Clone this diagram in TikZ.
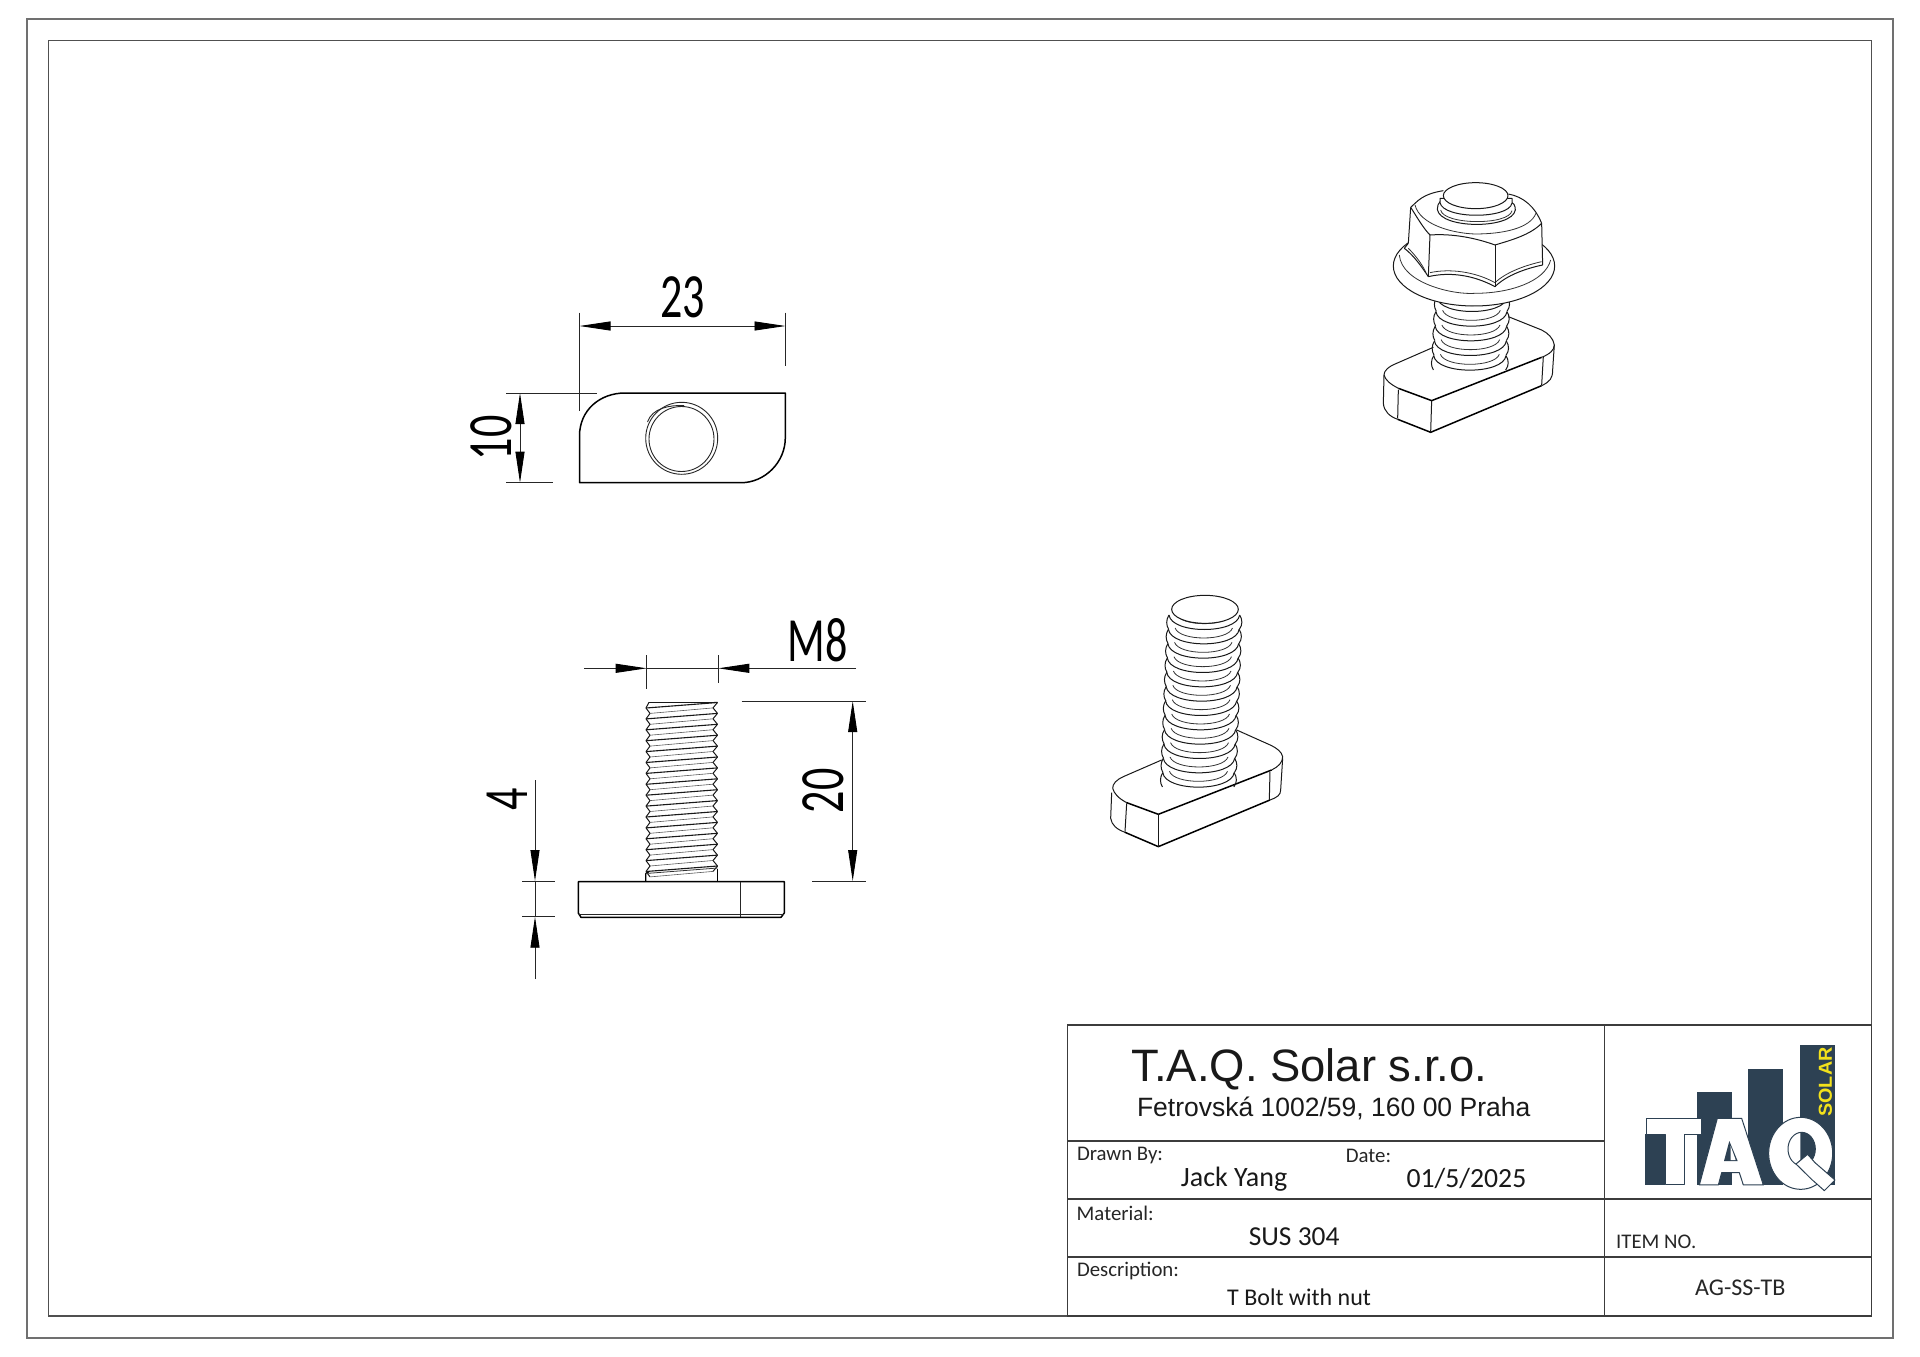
\documentclass[tikz,border=0pt]{standalone}
\usepackage{fontspec}
\setmainfont{Carlito}
\newfontfamily\arialfont{Liberation Sans}
\usetikzlibrary{arrows.meta}
\definecolor{framegray}{HTML}{707070}
\definecolor{innergray}{HTML}{505050}
\definecolor{tableline}{HTML}{3C3C3C}
\definecolor{logodark}{HTML}{2D4153}
\definecolor{logoyellow}{HTML}{F2E11B}
\tikzset{
  framebox/.style={draw=framegray,line width=2pt},
  innerbox/.style={draw=innergray,line width=1.5pt},
  tablerule/.style={draw=tableline,line width=1.4pt},
  part/.style={draw=black,line width=1.5pt,line join=round},
  partthin/.style={draw=black!85,line width=0.9pt},
  iso/.style={draw=black!90,line width=1pt,line join=round},
  isoheavy/.style={draw=black,line width=1.5pt,line join=round},
  isothin/.style={draw=black!80,line width=0.8pt},
  rootline/.style={draw=black!65,line width=0.6pt},
  dimline/.style={draw=black!85,line width=0.9pt},
  dimarrow/.style={dimline,arrows={Triangle[length=31pt,width=9pt,black]-Triangle[length=31pt,width=9pt,black]}},
  dimto/.style={dimline,arrows={-Triangle[length=31pt,width=9pt,black]}},
  dimtext/.style={inner sep=0pt,xscale=0.7,font=\fontsize{63}{63}\selectfont},
  lbl/.style={anchor=base west,inner sep=0pt,text=black!85,font=\fontsize{20.8}{22}\selectfont},
  val/.style={anchor=base west,inner sep=0pt,text=black!90,font=\fontsize{28}{30}\selectfont},
  logoshape/.style={fill=white,draw=logodark,line width=1pt,line join=round},
}
\newcommand{\isoring}[3]{%
  \draw[iso] (#1,#3) .. controls (#1+8,#3+58) and (#2-8,#3+58) .. (#2,#3);
  \draw[isothin] (#1+20,#3-4) .. controls (#1+34,#3+36) and (#2-34,#3+36) .. (#2-20,#3-4);
  \draw[iso] (#1,#3) .. controls (#1-9,#3+14) and (#1-9,#3+30) .. (#1-1,#3+43);
  \draw[iso] (#2,#3) .. controls (#2+9,#3+14) and (#2+9,#3+30) .. (#2-1,#3+43);
}
\begin{document}
\begin{tikzpicture}[x=1pt,y=-1pt]
\useasboundingbox (0,0) rectangle (1920,1357);
\fill[white] (0,0) rectangle (1920,1357);
% frames
\draw[framebox] (27,19) rectangle (1893,1338);
\draw[innerbox] (48.7,40.3) rectangle (1871.5,1316);
% title block
\draw[tablerule] (1067.5,1025) rectangle (1871.5,1316);
\draw[tablerule] (1604.5,1025) -- (1604.5,1316);
\draw[tablerule] (1067.5,1141) -- (1604.5,1141);
\draw[tablerule] (1067.5,1199) -- (1871.5,1199);
\draw[tablerule] (1067.5,1257) -- (1871.5,1257);
\node[anchor=base west,inner sep=0pt,text=black!90,font=\arialfont\fontsize{45.4}{47}\selectfont] (company) at (1131.4,1081.7) {T.A.Q. Solar s.r.o.};
\node[anchor=base west,inner sep=0pt,text=black!90,font=\arialfont\fontsize{26.5}{28}\selectfont] (address) at (1136.8,1116.7) {Fetrovská 1002/59, 160 00 Praha};
\node[lbl] (drawnlbl) at (1076.8,1160.7) {Drawn By:};
\node[val] (drawnval) at (1180.7,1186.7) {Jack Yang};
\node[lbl] (datelbl) at (1345.7,1162) {Date:};
\node[val,font=\fontsize{27.7}{30}\selectfont] (dateval) at (1406.4,1187) {01/5/2025};
\node[lbl] (matlbl) at (1076.5,1220.7) {Material:};
\node[val,font=\fontsize{27.4}{29}\selectfont] (matval) at (1248.6,1245) {SUS 304};
\node[lbl] (desclbl) at (1076.8,1276.7) {Description:};
\node[val,font=\fontsize{24}{26}\selectfont] (descval) at (1227,1305.7) {T Bolt with nut};
\node[lbl] (itemlbl) at (1616,1248) {ITEM NO.};
\node[lbl,font=\fontsize{24}{26}\selectfont] (itemval) at (1695,1295) {AG-SS-TB};
% logo
\begin{scope}[shift={(1640,1040)},x=0.3333pt,y=-0.3333pt]
  \fill[logodark] (480,15) rectangle (585,435);
  \fill[logodark] (325,88) rectangle (430,435);
  \fill[logodark] (170,157) rectangle (275,435);
  \fill[logodark] (15,283) rectangle (75,435);
  \path[logoshape] (18,235) -- (185,235) -- (185,283) -- (133,283) -- (133,433) -- (75,433) -- (75,283) -- (18,283) -- cycle;
  \path[logoshape] (232,235) -- (305,235) -- (370,435) -- (310,435) -- (298,398) -- (245,398) -- (235,435) -- (178,435) -- cycle;
  \fill[logodark] (268,303) -- (252,363) -- (293,363) -- cycle;
  \fill[white] (272,318) -- (272,360) -- (287,360) -- cycle;
  \path[logoshape] (482,340) ellipse [x radius=96,y radius=108];
  \path[logoshape] (485,327) ellipse [x radius=41,y radius=50];
  \begin{scope}
    \clip (481,270) rectangle (540,385);
    \fill[logodark] (485,327) ellipse [x radius=41,y radius=50];
  \end{scope}
  \path[logoshape] (468,372) -- (503,343) -- (525,368) -- (585,420) -- (553,452) -- (515,418) -- cycle;
  \fill[white] (500,352) -- (520,372) -- (540,425) -- (520,420) -- (480,378) -- cycle;
\end{scope}
\node[rotate=90,xscale=1.05,inner sep=0pt,text=logoyellow,font=\arialfont\bfseries\fontsize{18.8}{19}\selectfont] (logosolar) at (1825.5,1082) {SOLAR};
% top view
\draw[part] (579.5,482.7) -- (579.5,436) .. controls (579.5,410) and (600,393) .. (625,393) -- (785.3,393) -- (785.3,438) .. controls (785.3,462) and (765,482.7) .. (741,482.7) -- cycle;
\draw[partthin] (681.7,438.3) circle [radius=36];
\draw[partthin] (681.5,439) circle [radius=32.5];
\draw[partthin] (647.5,422) .. controls (652,408) and (670,405) .. (684,405.5);
\coordinate (a1) at (579.5,326); \coordinate (a2) at (785.5,326);
\draw[dimarrow] (a1) -- (a2);
\draw[dimline] (579.5,312.7) -- (579.5,411);
\draw[dimline] (785.5,312.7) -- (785.5,366);
\node[dimtext] (d23) at (682.7,297.7) {23};
\coordinate (b1) at (520,393); \coordinate (b2) at (520,482.7);
\draw[dimarrow] (b1) -- (b2);
\draw[dimline] (506,393) -- (597,393);
\draw[dimline] (506,482.7) -- (552.7,482.7);
\node[rotate=90,dimtext] (d10) at (491,438) {10};
% side view
\draw[part] (578.3,881.7) -- (784.3,881.7) -- (784.3,913) -- (781,917.3) -- (581,917.3) -- (578.3,913) -- cycle;
\draw[partthin] (579,914) -- (784,914);
\draw[partthin] (740,881.7) -- (740,917.3);
% thread
\foreach \i in {0,...,15}{
  \pgfmathsetmacro{\yl}{708+10.9*\i}
  \pgfmathsetmacro{\yr}{702.5+10.9*\i}
  \draw[iso,line width=1.1pt] (646,\yl) -- (717.5,\yr);
  \draw[rootline] (650,\yl+5.4) -- (713,\yr+5.4);
  \draw[iso] (646,\yl) -- (650,\yl+5.4);
  \draw[iso] (717.5,\yr) -- (713,\yr+5.4);
  \ifnum\i<15
    \draw[iso] (650,\yl+5.4) -- (646,\yl+10.9);
    \draw[iso] (713,\yr+5.4) -- (717.5,\yr+10.9);
  \fi
}
\draw[iso] (649,702.3) -- (714,702.3);
\draw[iso] (649,702.3) -- (646,708);
\draw[iso] (714,702.3) -- (717.5,702.5);
\draw[part,line width=1.1pt] (645.7,881.7) -- (645.7,873.5) -- (649,872);
\draw[part,line width=1.1pt] (717.7,881.7) -- (717.7,868.5);
\draw[isothin] (645.7,873.5) -- (717.7,868);
% M8
\coordinate (m1) at (584,668.3); \coordinate (m2) at (646.7,668.3);
\coordinate (m3) at (856,668.3); \coordinate (m4) at (718.3,668.3);
\draw[dimto] (m1) -- (m2);
\draw[dimto] (m3) -- (m4);
\draw[dimline] (m2) -- (m4);
\draw[dimline] (646.7,655) -- (646.7,689);
\draw[dimline] (718.3,655) -- (718.3,683);
\node[dimtext] (dm8) at (818,640.7) {M8};
% 20
\coordinate (t1) at (852.7,701); \coordinate (t2) at (852.7,881);
\draw[dimarrow] (t1) -- (t2);
\draw[dimline] (741.7,701) -- (866,701);
\draw[dimline] (812,881) -- (866,881);
\node[rotate=90,dimtext] (d20) at (823,790.7) {20};
% 4
\coordinate (f1) at (535,780); \coordinate (f2) at (535,881);
\coordinate (f3) at (535,979); \coordinate (f4) at (535,916.7);
\draw[dimto] (f1) -- (f2);
\draw[dimto] (f3) -- (f4);
\draw[dimline] (f2) -- (f4);
\draw[dimline] (522,881) -- (555,881);
\draw[dimline] (522,916.7) -- (555,916.7);
\node[rotate=90,dimtext] (d4) at (507.7,799) {4};
% iso bolt
\begin{scope}[shift={(1090,580)},x=0.3333pt,y=-0.3333pt]
  \draw[iso] (65,638) -- (62,715) .. controls (65,735) and (80,748) .. (105,757);
  \draw[isoheavy] (105,757) -- (205,800) -- (540,660);
  \draw[iso] (540,660) .. controls (562,652) and (572,645) .. (572,630) -- (578,535);
  \draw[iso] (215,540) -- (100,590) .. controls (78,600) and (68,612) .. (68,625);
  \draw[iso] (68,625) .. controls (72,640) and (85,655) .. (110,668);
  \draw[isoheavy] (110,668) -- (205,703) -- (545,570);
  \draw[iso] (545,570) .. controls (565,560) and (578,548) .. (578,530) .. controls (575,515) and (560,505) .. (545,497) -- (440,450);
  \draw[iso] (205,703) -- (205,800);
  \draw[iso] (110,670) -- (105,755);
  \draw[iso] (540,575) -- (538,660);
  \foreach \i in {0,...,11}{
    \pgfmathsetmacro{\xl}{237-1.7*\i}
    \pgfmathsetmacro{\xr}{449-1.5*\i}
    \pgfmathsetmacro{\yy}{105+43*\i}
    \isoring{\xl}{\xr}{\yy}
  }
  \draw[iso,fill=white] (345,88) ellipse [x radius=100,y radius=42];
\end{scope}
% iso bolt with nut
\begin{scope}[shift={(1360,160)},x=0.3333pt,y=-0.3333pt]
  \draw[iso] (72,645) -- (70,730) .. controls (72,755) and (90,770) .. (113,778);
  \draw[isoheavy] (113,778) -- (212,817) -- (545,677);
  \draw[iso] (545,677) .. controls (570,665) and (578,655) .. (578,630) -- (583,555);
  \draw[iso] (220,562) -- (110,610) .. controls (85,620) and (72,632) .. (72,645);
  \draw[iso] (72,645) .. controls (76,660) and (90,672) .. (115,685);
  \draw[isoheavy] (115,685) -- (215,722) -- (545,592);
  \draw[iso] (545,592) .. controls (570,582) and (583,570) .. (583,555) .. controls (580,535) and (565,520) .. (545,510) -- (445,470);
  \draw[iso] (215,722) -- (212,817);
  \draw[iso] (115,690) -- (113,775);
  \draw[iso] (550,590) -- (545,675);
  \foreach \i in {0,...,4}{
    \pgfmathsetmacro{\xl}{230-2.2*\i}
    \pgfmathsetmacro{\xr}{442-1*\i}
    \pgfmathsetmacro{\yy}{411+44*\i}
    \isoring{\xl}{\xr}{\yy}
  }
  % flange
  \draw[iso,fill=white] (342,318) ellipse [x radius=242,y radius=120];
  \draw[isothin] (118,285) .. controls (125,370) and (280,405) .. (345,400) .. controls (450,400) and (555,365) .. (572,300);
  % nut body
  \path[fill=white] (152,142) .. controls (190,90) and (280,75) .. (345,72) .. controls (430,75) and (510,100) .. (545,190) -- (548,315) -- (405,380) -- (205,350) -- (133,265) -- (145,250) -- cycle;
  \draw[iso] (145,250) -- (133,265) .. controls (160,285) and (185,320) .. (205,350);
  \draw[isothin] (145,265) .. controls (165,285) and (185,310) .. (198,338);
  \draw[iso] (205,350) .. controls (270,335) and (340,345) .. (405,380) .. controls (440,345) and (500,325) .. (548,315);
  \draw[isothin] (210,338) .. controls (270,325) and (345,335) .. (405,368) .. controls (440,335) and (500,315) .. (545,305);
  \draw[iso] (210,225) -- (205,350);
  \draw[iso] (405,255) -- (405,380);
  \draw[iso] (545,190) -- (548,315);
  \draw[iso] (152,142) -- (145,250);
  \draw[iso] (152,142) .. controls (170,170) and (190,205) .. (210,225);
  \draw[iso] (210,225) .. controls (280,220) and (350,235) .. (405,255);
  \draw[iso] (405,255) .. controls (455,240) and (510,225) .. (545,190);
  \draw[iso] (152,142) -- (165,130) .. controls (190,105) and (220,97) .. (250,92);
  \draw[iso] (445,102) .. controls (490,110) and (525,140) .. (545,190);
  \draw[isothin] (165,135) .. controls (180,195) and (280,220) .. (345,222) .. controls (430,222) and (510,205) .. (528,160);
  % collars
  \draw[iso,fill=white] (232,148) .. controls (240,208) and (457,208) .. (466,150) .. controls (466,135) and (460,128) .. (452,125) -- (240,125) .. controls (235,130) and (232,138) .. (232,148) -- cycle;
  \draw[isothin] (242,150) .. controls (250,195) and (447,197) .. (456,152);
  \draw[iso,fill=white] (240,115) -- (240,128) .. controls (250,178) and (445,178) .. (456,130) -- (456,115) -- cycle;
  \draw[iso,fill=white] (347,107) ellipse [x radius=97,y radius=39];
\end{scope}
\end{tikzpicture}
\end{document}
